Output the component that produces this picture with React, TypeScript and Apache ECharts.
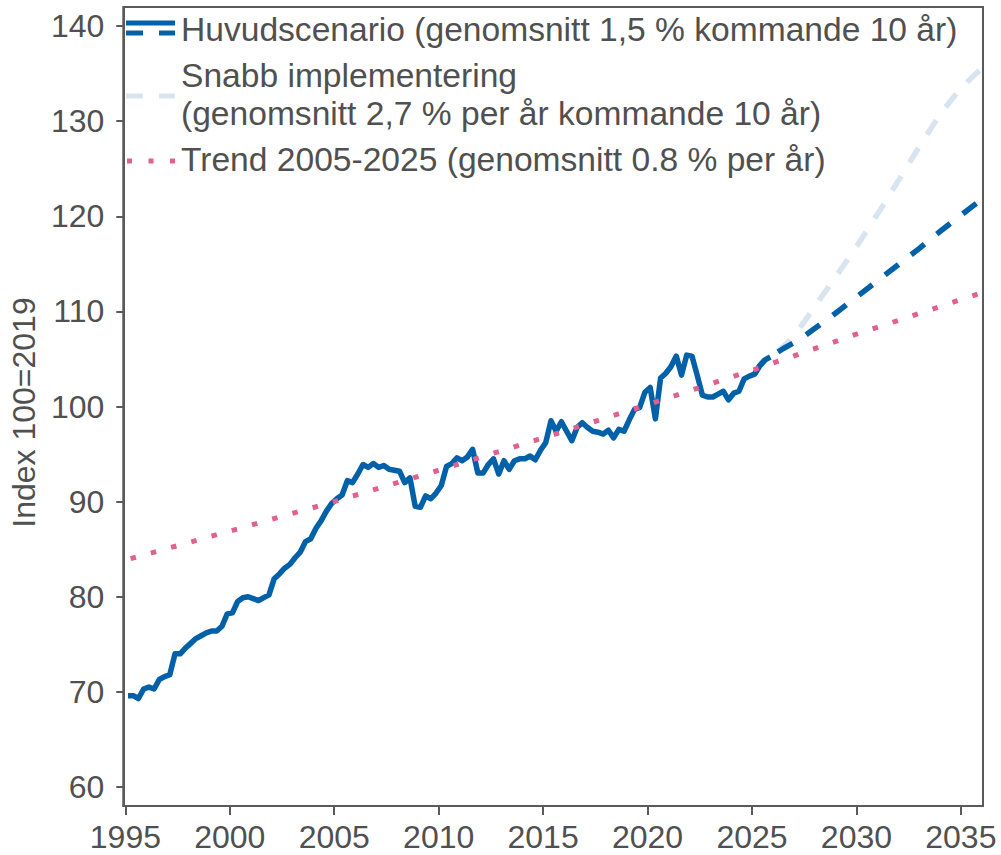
import React, { useEffect, useRef } from "react";
import * as echarts from "echarts";

const FONT = 'Arial, "Liberation Sans", Helvetica, sans-serif';
const TEXT = "#505050";
const AXIS = "#5a5a5a";
const BLUE = "#0060a8";
const LIGHT = "#d9e4f1";
const PINK = "#e0608f";

// Quarterly index (100 = 2019), first quarter of 1995 onwards
const historyStart = 1995.125;
const quarterStep = 0.25;
const history = [
  69.6, 69.6, 69.3, 70.3, 70.5, 70.3, 71.3, 71.6, 71.8, 74.0,
  74.0, 74.6, 75.1, 75.6, 75.9, 76.2, 76.4, 76.4, 76.9, 78.2,
  78.3, 79.5, 79.9, 80.0, 79.8, 79.6, 79.9, 80.2, 81.9, 82.4,
  83.0, 83.4, 84.1, 84.7, 85.8, 86.1, 87.2, 88.0, 89.0, 89.8,
  90.3, 90.7, 92.2, 92.0, 92.9, 93.9, 93.6, 94.0, 93.6, 93.8,
  93.4, 93.3, 93.2, 92.0, 92.5, 89.5, 89.4, 90.6, 90.3, 90.9,
  91.7, 93.7, 94.0, 94.6, 94.3, 94.7, 95.5, 93.0, 93.0, 93.9,
  94.5, 92.9, 94.3, 93.4, 94.3, 94.5, 94.5, 94.8, 94.4, 95.4,
  96.2, 98.5, 97.4, 98.4, 97.4, 96.4, 97.8, 98.3, 97.8, 97.4,
  97.3, 97.1, 97.5, 96.7, 97.6, 97.4, 98.6, 99.7, 99.9, 101.5,
  102.0, 98.7, 103.0, 103.5, 104.2, 105.3, 103.3, 105.4, 105.3, 103.3,
  101.2, 101.0, 101.0, 101.3, 101.6, 100.7, 101.4, 101.6, 102.9, 103.2,
  103.4, 104.3, 104.9, 105.2,
];

// Scenario paths 2025-2036
const projectionYears = [
  2025.125, 2025.375, 2025.625, 2025.875, 2026.5, 2027, 2027.5, 2028,
  2029, 2030, 2031, 2032, 2033, 2034, 2035, 2036.06,
];
const mainScenario = [
  103.4, 104.3, 104.9, 105.2, 106.1, 106.7, 107.4, 108.2,
  109.8, 111.5, 113.2, 114.9, 116.6, 118.4, 120.1, 121.9,
];
const fastScenario = [
  103.4, 104.3, 104.9, 105.2, 106.3, 107.4, 108.9, 110.5,
  113.6, 116.8, 120.2, 123.7, 127.3, 130.7, 133.5, 135.7,
];

// Trend 2005-2025 extended over the whole period
const trendYears = [1995.25, 2000, 2005, 2010, 2015, 2020, 2025, 2030, 2036.06];
const trendValues = [84.0, 86.9, 90.0, 93.3, 96.7, 100.2, 103.8, 107.6, 112.0];

const xTicks = [1995, 2000, 2005, 2010, 2015, 2020, 2025, 2030, 2035];
const yTicks = [60, 70, 80, 90, 100, 110, 120, 130, 140];

const legendLabels = [
  "Huvudscenario (genomsnitt 1,5 % kommande 10 år)",
  "Snabb implementering\n(genomsnitt 2,7 % per år kommande 10 år)",
  "Trend 2005-2025 (genomsnitt 0.8 % per år)",
];

const zip = (xs: number[], ys: number[]) => xs.map((x, i) => [x, ys[i]]);

export default function App() {
  const ref = useRef<HTMLDivElement>(null);

  useEffect(() => {
    if (!ref.current) return;
    const chart = echarts.init(ref.current, null, { renderer: "svg" });

    const historyData = history.map((v, i) => [historyStart + i * quarterStep, v]);
    const textStyle = (text: string, lineHeight?: number) => ({
      text,
      fill: TEXT,
      fontSize: 33.6,
      fontFamily: FONT,
      verticalAlign: "middle",
      textVerticalAlign: "middle",
      lineHeight,
    });

    chart.setOption({
      animation: false,
      backgroundColor: "#ffffff",
      grid: {
        left: 122,
        right: 18,
        top: 7,
        bottom: 49,
        show: true,
        borderColor: AXIS,
        borderWidth: 2,
        containLabel: false,
      },
      xAxis: {
        type: "value",
        min: 1994.9,
        max: 2036.06,
        splitLine: { show: false },
        axisLine: { show: true, lineStyle: { color: AXIS, width: 2 } },
        axisTick: {
          show: true,
          length: 9,
          customValues: xTicks,
          lineStyle: { color: AXIS, width: 2 },
        },
        axisLabel: {
          customValues: xTicks,
          formatter: (v: number) => String(Math.round(v)),
          fontSize: 32,
          fontFamily: FONT,
          color: TEXT,
          margin: 15,
        },
      },
      yAxis: {
        type: "value",
        min: 58,
        max: 142,
        name: "Index 100=2019",
        nameLocation: "middle",
        nameRotate: 90,
        nameGap: 74,
        nameTextStyle: { fontSize: 32, fontFamily: FONT, color: TEXT, padding: [0, 12, 0, 0] },
        splitLine: { show: false },
        axisLine: { show: true, lineStyle: { color: AXIS, width: 2 } },
        axisTick: {
          show: true,
          length: 7,
          customValues: yTicks,
          lineStyle: { color: AXIS, width: 2 },
        },
        axisLabel: {
          customValues: yTicks,
          fontSize: 32,
          fontFamily: FONT,
          color: TEXT,
          margin: 19,
        },
      },
      series: [
        {
          name: "Snabb implementering",
          type: "line",
          data: zip(projectionYears, fastScenario),
          showSymbol: false,
          lineStyle: { color: LIGHT, width: 5.5, type: [17, 16], cap: "butt" },
          z: 2,
        },
        {
          name: "Huvudscenario prognos",
          type: "line",
          data: zip(projectionYears, mainScenario),
          showSymbol: false,
          lineStyle: { color: BLUE, width: 5.5, type: [17, 16], cap: "butt" },
          z: 3,
        },
        {
          name: "Huvudscenario",
          type: "line",
          data: historyData,
          showSymbol: false,
          lineStyle: { color: BLUE, width: 5.5, join: "round", cap: "butt" },
          z: 4,
        },
        {
          name: "Trend 2005-2025",
          type: "line",
          data: zip(trendYears, trendValues),
          showSymbol: false,
          lineStyle: { color: PINK, width: 5, type: [5.5, 15.5], cap: "butt" },
          z: 5,
        },
      ],
      graphic: [
        // Huvudscenario: solid over dashed
        { type: "line", shape: { x1: 126, y1: 23, x2: 175, y2: 23 }, style: { stroke: BLUE, lineWidth: 5 } },
        { type: "line", shape: { x1: 126, y1: 33, x2: 143, y2: 33 }, style: { stroke: BLUE, lineWidth: 5 } },
        { type: "line", shape: { x1: 159, y1: 33, x2: 175, y2: 33 }, style: { stroke: BLUE, lineWidth: 5 } },
        { type: "text", x: 181, y: 29, style: textStyle(legendLabels[0]) },
        // Snabb implementering
        { type: "line", shape: { x1: 126, y1: 96, x2: 143, y2: 96 }, style: { stroke: LIGHT, lineWidth: 5 } },
        { type: "line", shape: { x1: 159, y1: 96, x2: 175, y2: 96 }, style: { stroke: LIGHT, lineWidth: 5 } },
        { type: "text", x: 181, y: 94, style: textStyle(legendLabels[1], 38) },
        // Trend
        { type: "rect", shape: { x: 127, y: 158.5, width: 5, height: 5 }, style: { fill: PINK } },
        { type: "rect", shape: { x: 148.5, y: 158.5, width: 5, height: 5 }, style: { fill: PINK } },
        { type: "rect", shape: { x: 170, y: 158.5, width: 5, height: 5 }, style: { fill: PINK } },
        { type: "text", x: 181, y: 159, style: textStyle(legendLabels[2]) },
      ],
    });

    return () => chart.dispose();
  }, []);

  return (
    <div
      ref={ref}
      style={{ position: "absolute", left: 0, top: 0, width: 1001, height: 855, background: "#ffffff" }}
    />
  );
}
